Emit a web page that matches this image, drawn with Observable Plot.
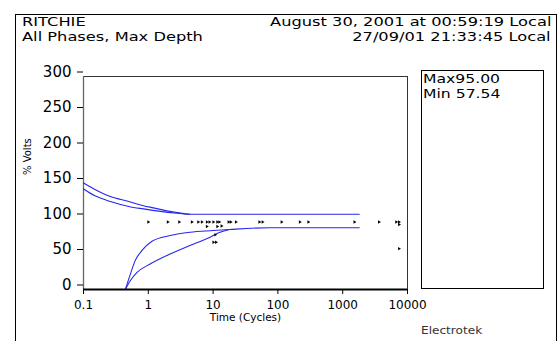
<!DOCTYPE html>
<html><head><meta charset="utf-8">
<script src="https://cdn.jsdelivr.net/npm/d3@7"></script>
<script src="https://cdn.jsdelivr.net/npm/@observablehq/plot@0.6"></script>
<style>
body{margin:0;background:#fff;}
#wrap{position:relative;width:558px;height:341px;overflow:hidden;background:#fff;font-family:"DejaVu Sans",sans-serif;color:#000;}
#wrap svg{position:absolute;left:0;top:0;}
.t{position:absolute;white-space:nowrap;font-size:12.5px;line-height:13px;}
.l{transform-origin:left top;transform:scaleX(1.3);}
.r{transform-origin:right top;transform:scaleX(1.3);}
.box{position:absolute;border:1px solid #000;box-sizing:border-box;}
</style></head>
<body><div id="wrap">
<div class="box" style="left:15px;top:14px;width:542px;height:340px;border-bottom:none"></div>
<div class="box" style="left:421px;top:70px;width:123px;height:219px"></div>
<div class="t l" style="left:22px;top:15px">RITCHIE</div>
<div class="t l" style="left:22px;top:30px">All Phases, Max Depth</div>
<div class="t r" style="right:7px;top:15px">August 30, 2001 at 00:59:19 Local</div>
<div class="t r" style="right:7px;top:30px">27/09/01 21:33:45 Local</div>
<div class="t l" style="left:423px;top:72px;transform:scaleX(1.25)">Max95.00</div>
<div class="t l" style="left:423px;top:87px;transform:scaleX(1.25)">Min 57.54</div>
<div class="t l" style="left:421px;top:325px;font-size:11px;line-height:11px;color:#333;transform:scaleX(1.1)">Electrotek</div>
</div>
<script>
// axis ticks
const xTicks = [0.1, 1, 10, 100, 1000, 10000];
const yTicks = [0, 50, 100, 150, 200, 250, 300];

// upper envelope curves (cycles, % volts)
const upperAX = [0.1, 0.15, 0.26, 0.5, 0.84, 1.2, 2.17, 3, 4.4, 1800];
const upperAY = [150, 141, 131, 124, 118, 115, 110, 108, 106, 106];
const upperBX = [0.1, 0.15, 0.26, 0.5, 0.84, 1.53, 2.75, 4.4];
const upperBY = [141.5, 132, 124, 117, 113.5, 110, 107.5, 106];

// lower envelope curves
const lowerAX = [0.443, 0.53, 0.63, 0.8, 1.14, 2.17, 4.4, 10.1, 18, 75, 1800];
const lowerAY = [0, 22, 41, 55, 68, 76, 80.7, 83, 84.5, 87, 87];
const lowerBX = [0.443, 0.53, 0.67, 1.07, 2.17, 4.4, 9, 12.8, 18];
const lowerBY = [0, 12.7, 24, 36, 50, 62, 73.7, 80.7, 84.5];

// events (duration in cycles, magnitude in % volts)
const eventX = [1, 2, 3, 4.7, 5.9, 6.7, 8.0, 8.8, 10.1, 11.6, 12.5, 17.3, 18.7, 22.5, 51.8, 58, 114, 218, 295, 1520, 3630, 6700, 7400,
                8, 11.6, 13.5, 10.8, 10.1, 11.1, 7400, 7400];
const eventY = [95, 95, 95, 95, 95, 95, 95, 95, 95, 95, 95, 95, 95, 95, 95, 95, 95, 95, 95, 95, 95, 95, 95,
                88.7, 88.7, 89.5, 77, 66.6, 66.6, 91.5, 57.54];

const rows = (xs, ys) => xs.map((x, i) => ({x, y: ys[i]}));
const lineOpts = {x: "x", y: "y", stroke: "#2727ec", strokeWidth: 1.1, curve: "monotone-x"};

const chart = Plot.plot({
  width: 558, height: 341,
  marginLeft: 83, marginRight: 151, marginTop: 76, marginBottom: 52,
  style: {fontFamily: "DejaVu Sans", background: "transparent", color: "#000", overflow: "visible"},
  x: {type: "log", domain: [0.1, 10000]},
  y: {domain: [0, 300]},
  marks: [
    Plot.ruleY([300], {stroke: "#333"}),
    Plot.ruleX([10000], {stroke: "#333"}),
    Plot.ruleX([0.1], {stroke: "#666", strokeWidth: 1.3}),
    Plot.line(rows(upperAX, upperAY), lineOpts),
    Plot.line(rows(upperBX, upperBY), lineOpts),
    Plot.line(rows(lowerAX, lowerAY), lineOpts),
    Plot.line(rows(lowerBX, lowerBY), lineOpts),
    Plot.dot(rows(eventX, eventY), {x: "x", y: "y", symbol: "triangle", r: 1.25, rotate: 90, fill: "#000", stroke: null}),
    Plot.ruleY([0], {stroke: "#000", strokeWidth: 2}),
    Plot.axisX({ticks: xTicks, tickFormat: d => String(d), tickSize: 5, tickPadding: 6, fontSize: 12, label: null}),
    Plot.axisY({ticks: yTicks, tickSize: 6, tickPadding: 6, fontSize: 15, dy: -4.5, label: null}),
    Plot.text(["% Volts"], {text: d => d, frameAnchor: "left", dx: -56, dy: -8, rotate: -90, fontSize: 10}),
    Plot.text(["Time (Cycles)"], {text: d => d, frameAnchor: "bottom", dy: 31, fontSize: 10.5})
  ]
});
document.getElementById("wrap").prepend(chart);
</script>
</body></html>
